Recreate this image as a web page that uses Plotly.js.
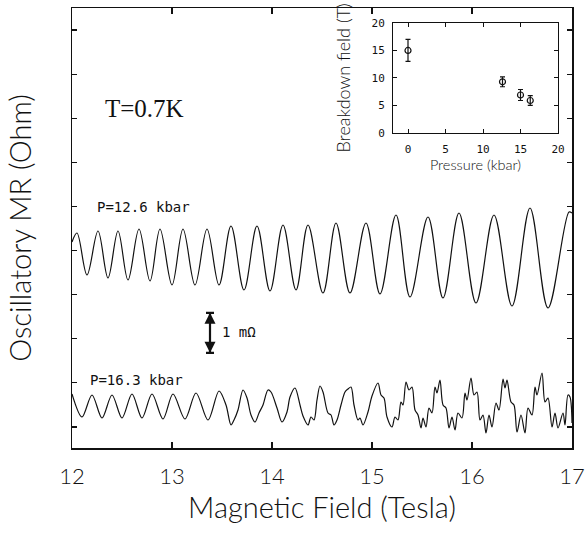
<!DOCTYPE html>
<html><head><meta charset="utf-8">
<script src="https://cdn.plot.ly/plotly-3.0.1.min.js"></script>
<style>html,body{margin:0;padding:0;background:#fff;}#chart{width:585px;height:535px;}</style>
</head><body><div id="chart"></div>
<script>
// Upper trace: P = 12.6 kbar (field in T, oscillatory MR in mOhm, arbitrary offset)
const fieldHigh = [12.00,12.05,12.15,12.26,12.36,12.46,12.56,12.67,12.78,12.88,13.00,13.11,13.23,13.35,13.47,13.59,13.72,13.85,13.98,14.11,14.24,14.36,14.51,14.64,14.78,14.94,15.08,15.24,15.38,15.56,15.71,15.87,16.04,16.22,16.40,16.58,16.76,16.97,17.00];
const mrHigh = [5.15,5.375,4.325,5.425,4.25,5.425,4.20,5.475,4.175,5.475,4.075,5.475,4.075,5.475,4.075,5.55,3.95,5.55,3.925,5.575,3.95,5.575,3.875,5.625,3.875,5.625,3.85,5.825,3.775,5.775,3.75,5.875,3.625,5.825,3.55,6.00,3.50,5.90,5.875];

// Lower trace: P = 16.3 kbar
const fieldLow = [12.00,12.10,12.20,12.30,12.40,12.50,12.60,12.70,12.80,12.91,13.01,13.13,13.24,13.36,13.47,13.54,13.59,13.62,13.66,13.71,13.75,13.79,13.83,13.87,13.91,13.96,13.99,14.05,14.10,14.15,14.18,14.23,14.28,14.31,14.36,14.39,14.42,14.45,14.48,14.51,14.56,14.59,14.62,14.65,14.69,14.73,14.76,14.79,14.82,14.86,14.88,14.91,14.96,15.00,15.06,15.09,15.12,15.15,15.20,15.23,15.26,15.29,15.31,15.34,15.37,15.40,15.43,15.46,15.49,15.51,15.54,15.57,15.60,15.63,15.65,15.68,15.71,15.74,15.77,15.80,15.83,15.86,15.90,15.93,15.95,15.99,16.02,16.05,16.08,16.11,16.14,16.17,16.20,16.24,16.27,16.31,16.33,16.35,16.39,16.42,16.45,16.49,16.53,16.56,16.60,16.63,16.65,16.70,16.73,16.76,16.80,16.83,16.86,16.91,16.93,16.96,16.98,17.00];
const mrLow = [1.35,0.775,1.325,0.75,1.325,0.75,1.35,0.75,1.35,0.725,1.35,0.725,1.375,0.70,1.425,1.075,0.575,0.70,0.95,1.45,1.25,0.825,0.65,0.875,1.075,1.45,1.40,1.00,0.65,0.90,1.275,1.50,1.075,0.80,0.575,0.775,0.70,1.20,1.55,1.40,0.875,0.825,0.575,0.70,1.075,1.40,1.475,1.525,1.075,0.70,0.75,0.575,0.90,1.30,1.625,1.325,1.25,0.775,0.525,0.775,0.70,1.15,1.075,1.65,1.45,1.525,0.95,0.825,0.50,0.75,0.525,1.00,0.875,1.525,1.375,1.70,1.075,1.00,0.50,0.775,0.45,0.875,0.75,1.375,1.20,1.75,1.325,1.40,0.70,0.825,0.375,0.825,0.525,1.125,0.95,1.725,1.50,1.70,1.15,1.075,0.40,0.825,0.375,1.00,0.825,1.525,1.325,1.875,1.15,1.25,0.525,0.875,0.50,0.875,0.575,1.325,1.275,0.625];

// Inset: breakdown field vs pressure
const pressure = [0, 12.6, 15, 16.3];
const breakdownField = [15, 9.3, 6.9, 5.9];
const breakdownErr = [2, 0.9, 1.0, 0.9];

// Scale bar (1 mOhm)
const scaleBarField = [13.38];
const scaleBarCenter = [2.88];
const scaleBarHalf = [0.5];

const xTicks = [12, 13, 14, 15, 16, 17];
const insetTicks = [0, 5, 10, 15, 20];

const ink = '#111';
const thin = 'Lato, Roboto, sans-serif';
const traces = [
  {x: fieldHigh, y: mrHigh, type: 'scatter', mode: 'lines', line: {color: ink, width: 1.2, shape: 'spline', smoothing: 1}, hoverinfo: 'skip'},
  {x: fieldLow, y: mrLow, type: 'scatter', mode: 'lines', line: {color: ink, width: 1.2, shape: 'spline', smoothing: 0.9}, hoverinfo: 'skip'},
  {x: scaleBarField, y: scaleBarCenter, type: 'scatter', mode: 'markers', marker: {size: 1, color: 'rgba(0,0,0,0)'},
   error_y: {type: 'data', array: scaleBarHalf, color: ink, thickness: 2.2, width: 4}, hoverinfo: 'skip'},
  {x: pressure, y: breakdownField, xaxis: 'x2', yaxis: 'y2', type: 'scatter', mode: 'markers',
   marker: {symbol: 'circle-open', size: 6, color: ink, line: {width: 1.2, color: ink}},
   error_y: {type: 'data', array: breakdownErr, color: ink, thickness: 1.2, width: 2.5}}
];

const layout = {
  width: 585, height: 535,
  margin: {l: 72, r: 13, t: 8, b: 87},
  paper_bgcolor: '#fff', plot_bgcolor: 'rgba(0,0,0,0)',
  showlegend: false,
  font: {family: thin, color: ink},
  xaxis: {
    range: [12, 17], tickvals: xTicks, ticktext: xTicks.map(String),
    ticks: 'inside', ticklen: 6, tickwidth: 1.2, tickcolor: ink,
    showline: true, linewidth: 1.5, linecolor: ink, mirror: 'ticks',
    showgrid: false, zeroline: false,
    tickfont: {family: thin, size: 22, color: ink, weight: 300}, ticklabelstandoff: 8,
    title: {text: 'Magnetic Field (Tesla)', font: {family: thin, size: 29, color: ink, weight: 300}, standoff: 4}
  },
  yaxis: {
    range: [0, 11], tick0: 0.525, dtick: 1.1028, showticklabels: false,
    ticks: 'inside', ticklen: 5, tickwidth: 1.2, tickcolor: ink,
    showline: true, linewidth: 1.5, linecolor: ink, mirror: 'ticks',
    showgrid: false, zeroline: false,
    title: {text: 'Oscillatory MR (Ohm)', font: {family: thin, size: 29, color: ink, weight: 300}, standoff: 30}
  },
  xaxis2: {
    domain: [0.642, 0.972], anchor: 'y2', range: [-2, 20], tickvals: insetTicks,
    ticks: 'inside', ticklen: 4, tickwidth: 1, tickcolor: ink,
    showline: true, linewidth: 1, linecolor: ink, mirror: 'ticks',
    showgrid: false, zeroline: false,
    tickfont: {family: 'DejaVu Sans Mono, monospace', size: 11, color: ink}, ticklabelstandoff: 6,
    title: {text: 'Pressure (kbar)', font: {family: thin, size: 14.5, color: ink, weight: 300}, standoff: 4}
  },
  yaxis2: {
    domain: [0.716, 0.966], anchor: 'x2', range: [0, 20], tickvals: insetTicks,
    ticks: 'inside', ticklen: 4, tickwidth: 1, tickcolor: ink,
    showline: true, linewidth: 1, linecolor: ink, mirror: 'ticks',
    showgrid: false, zeroline: false,
    tickfont: {family: 'DejaVu Sans Mono, monospace', size: 11, color: ink}, ticklabelstandoff: 5,
    title: {text: 'Breakdown field (T)', font: {family: thin, size: 18, color: ink, weight: 300}, standoff: 16}
  },
  annotations: [
    {xref: 'x', yref: 'y', x: 12.72, y: 8.5, text: 'T=0.7K', showarrow: false, xanchor: 'center', yanchor: 'middle',
     font: {family: 'Liberation Serif, serif', size: 25, color: ink}},
    {xref: 'x', yref: 'y', x: 12.23, y: 6.025, text: 'P=12.6 kbar', showarrow: false, xanchor: 'left', yanchor: 'middle',
     font: {family: 'DejaVu Sans Mono, monospace', size: 14, color: ink}},
    {xref: 'x', yref: 'y', x: 12.16, y: 1.70, text: 'P=16.3 kbar', showarrow: false, xanchor: 'left', yanchor: 'middle',
     font: {family: 'DejaVu Sans Mono, monospace', size: 14, color: ink}},
    {xref: 'x', yref: 'y', x: 13.48, y: 2.90, text: '1 mΩ', showarrow: false, xanchor: 'left', yanchor: 'middle',
     font: {family: 'DejaVu Sans Mono, monospace', size: 14, color: ink}},
    {xref: 'x', yref: 'y', axref: 'x', ayref: 'y', x: scaleBarField[0], y: scaleBarCenter[0] + scaleBarHalf[0],
     ax: scaleBarField[0], ay: scaleBarCenter[0], text: '', showarrow: true, arrowhead: 2, arrowsize: 1.1, arrowwidth: 2, arrowcolor: ink, standoff: 0},
    {xref: 'x', yref: 'y', axref: 'x', ayref: 'y', x: scaleBarField[0], y: scaleBarCenter[0] - scaleBarHalf[0],
     ax: scaleBarField[0], ay: scaleBarCenter[0], text: '', showarrow: true, arrowhead: 2, arrowsize: 1.1, arrowwidth: 2, arrowcolor: ink, standoff: 0}
  ]
};

Plotly.newPlot('chart', traces, layout, {displayModeBar: false, staticPlot: true});
</script>
</body></html>
